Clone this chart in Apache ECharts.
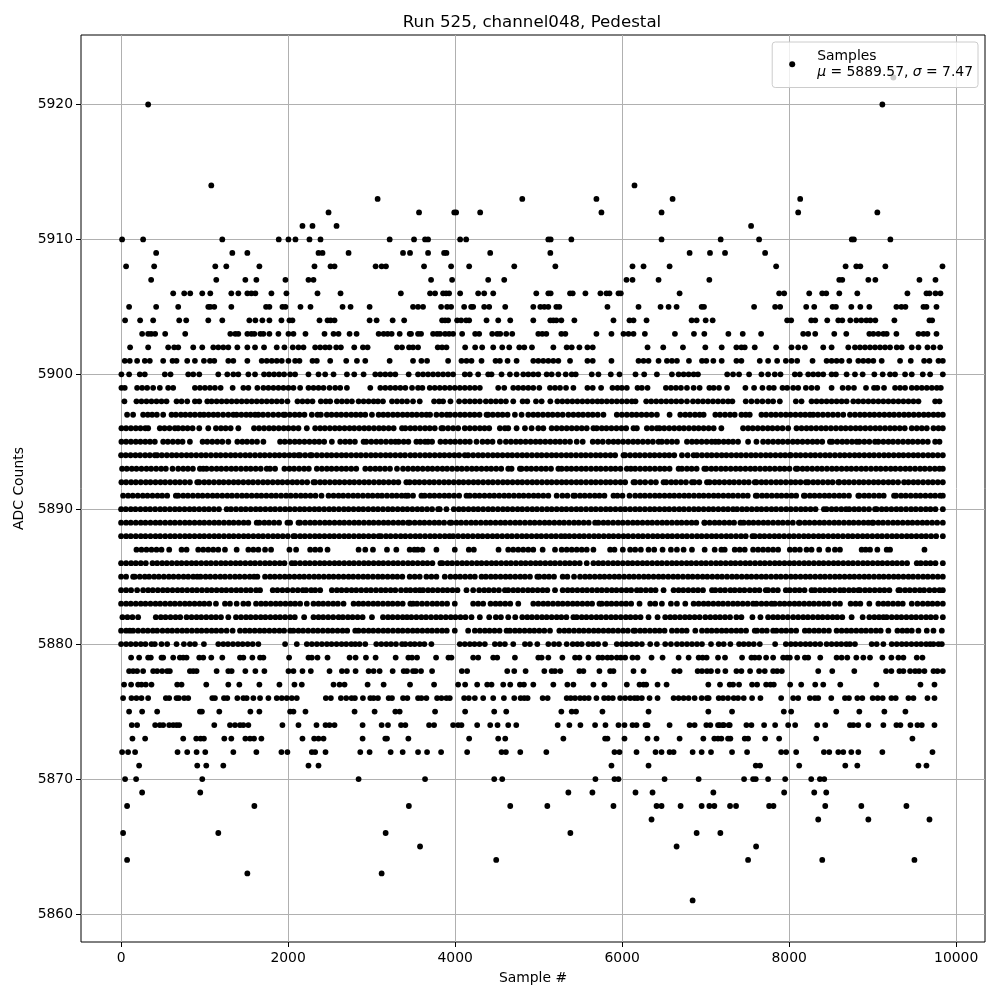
<!DOCTYPE html>
<html>
<head>
<meta charset="utf-8">
<title>Run 525, channel048, Pedestal</title>
<script src="https://cdn.jsdelivr.net/npm/echarts@6/dist/echarts.min.js"></script>
<style>
  html, body { margin: 0; padding: 0; background: #fff; }
  #chart { width: 1000px; height: 1000px; }
</style>
</head>
<body>
<div id="chart"></div>
<script>
// sample numbers, one array per ADC level
const adc5922 = [9248];
const adc5920 = [324, 9116];
const adc5914 = [1080, 6148];
const adc5913 = [3072, 4804, 5692, 6604, 8132];
const adc5912 = [2484, 3568, 3990, 4012, 4300, 5752, 6472, 8108, 9056];
const adc5911 = [2172, 2292, 2580, 7544];
const adc5910 = [12, 264, 1212, 1888, 2004, 2088, 2256, 2388, 3216, 3508, 3640, 3676, 4060, 4132, 5116, 5144, 5392, 6472, 7180, 7640, 8750, 8775, 9212];
const adc5909 = [420, 1332, 1512, 2364, 2412, 2724, 3376, 3460, 3676, 3868, 3896, 4420, 5140, 6808, 7052, 7232, 7712];
const adc5908 = [60, 396, 1128, 1260, 1656, 2316, 2508, 2556, 3048, 3120, 3172, 3628, 3952, 4168, 4708, 5200, 6124, 6256, 6568, 7844, 8676, 8804, 8852, 9152, 9836];
const adc5907 = [360, 1140, 1488, 1620, 1968, 2244, 2304, 3712, 3964, 4396, 4588, 6052, 6124, 6436, 7044, 8600, 8636, 8948, 9032, 9560, 9752];
const adc5906 = [624, 756, 828, 972, 1068, 1320, 1404, 1512, 1560, 1608, 1800, 1980, 2352, 2628, 3350, 3700, 3760, 3856, 3892, 3928, 4060, 4276, 4348, 4456, 4972, 5116, 5144, 5376, 5408, 5560, 5740, 5812, 5848, 5956, 5984, 6688, 7880, 7940, 8240, 8396, 8444, 8600, 8816, 9416, 9644, 9680, 9752, 9812];
const adc5905 = [96, 420, 684, 1044, 1068, 1116, 1320, 1736, 1776, 1932, 1968, 2148, 2268, 2652, 2748, 2976, 3496, 3556, 3616, 3832, 3904, 3952, 4108, 4192, 4216, 4348, 4408, 4600, 4936, 5020, 5068, 5116, 5212, 5248, 5824, 6196, 6460, 6556, 6652, 6952, 6980, 7580, 7832, 7892, 8204, 8300, 8520, 8560, 8744, 8852, 8960, 9284, 9344, 9392, 9608, 9644, 9764];
const adc5904 = [48, 228, 384, 696, 780, 1044, 1212, 1536, 1608, 1692, 1776, 1920, 2016, 2052, 2376, 2472, 2508, 2556, 2976, 3060, 3252, 3390, 3844, 3880, 3916, 4024, 4072, 4132, 4168, 4376, 4516, 4660, 4936, 5140, 5176, 5212, 5272, 5428, 5896, 6088, 6136, 6292, 6832, 6892, 7000, 7084, 7976, 8024, 8264, 8312, 8456, 8588, 8636, 8732, 8804, 8864, 8924, 8972, 9032, 9260, 9680, 9712];
const adc5903 = [252, 324, 360, 408, 528, 768, 1308, 1368, 1404, 1512, 1560, 1596, 1668, 1704, 1776, 1884, 2004, 2064, 2208, 2436, 2544, 2604, 2736, 2820, 3084, 3144, 3192, 3240, 3336, 3456, 3472, 3556, 3592, 3736, 3784, 3820, 3880, 3928, 3976, 4084, 4240, 4288, 4444, 4504, 4540, 4612, 4684, 4996, 5044, 5092, 5272, 5320, 5692, 5872, 6016, 6076, 6136, 6272, 6632, 6860, 6984, 7272, 7444, 7664, 8168, 8228, 8312, 8540, 8684, 8960, 9008, 9068, 9128, 9168, 9284, 9548, 9608, 9656, 9764];
const adc5902 = [108, 324, 564, 636, 684, 864, 972, 1104, 1164, 1224, 1284, 1392, 1512, 1604, 1712, 1864, 1956, 2056, 2124, 2184, 2324, 2384, 2444, 2496, 2576, 2632, 2792, 2896, 2952, 3304, 3364, 3448, 3496, 3556, 3792, 3844, 3896, 4120, 4240, 4324, 4456, 4564, 4648, 4768, 4828, 4920, 5176, 5336, 5396, 5488, 5584, 5648, 6304, 6492, 6728, 6996, 7192, 7368, 7428, 7468, 7588, 7844, 8028, 8108, 8188, 8408, 8508, 8708, 8788, 8848, 8908, 8968, 9028, 9088, 9148, 9208, 9288, 9348, 9468, 9548, 9656, 9728, 9808];
const adc5901 = [44, 104, 192, 284, 344, 504, 616, 664, 792, 884, 992, 1064, 1116, 1284, 1344, 1512, 1684, 1744, 1804, 1864, 1924, 2004, 2084, 2136, 2292, 2344, 2504, 2696, 2824, 2924, 3216, 3496, 3596, 3664, 3916, 4076, 4136, 4196, 4316, 4484, 4536, 4628, 4736, 4936, 4996, 5056, 5116, 5176, 5236, 5376, 5584, 5648, 5872, 6196, 6256, 6316, 6436, 6536, 6596, 6656, 6800, 6956, 7008, 7092, 7192, 7368, 7428, 7648, 7748, 7856, 7960, 8028, 8096, 8280, 8448, 8508, 8568, 8628, 8720, 8828, 8888, 8948, 9008, 9108, 9328, 9456, 9616, 9680, 9788, 9840];
const adc5900 = [4, 96, 224, 284, 524, 592, 804, 864, 936, 1164, 1272, 1344, 1404, 1524, 1604, 1712, 1772, 1832, 1892, 1952, 2024, 2084, 2244, 2364, 2444, 2544, 2704, 2792, 2904, 3044, 3104, 3164, 3224, 3284, 3444, 3556, 3616, 3676, 3736, 3796, 3856, 3916, 3976, 4116, 4176, 4276, 4396, 4436, 4556, 4656, 4736, 4816, 4876, 4936, 4996, 5096, 5156, 5236, 5324, 5396, 5444, 5636, 5716, 5864, 5968, 6160, 6264, 6416, 6596, 6676, 6736, 6796, 6856, 6908, 7258, 7328, 7400, 7520, 7668, 7748, 7828, 7896, 8068, 8128, 8228, 8288, 8348, 8408, 8508, 8560, 8688, 8788, 8880, 9020, 9120, 9208, 9268, 9388, 9468, 9600, 9688, 9840];
const adc5899 = [4, 44, 192, 252, 312, 384, 464, 564, 624, 884, 944, 1004, 1064, 1124, 1192, 1336, 1464, 1524, 1632, 1704, 1764, 1824, 1884, 1944, 2004, 2064, 2144, 2244, 2304, 2364, 2424, 2496, 2564, 2624, 2704, 2984, 3104, 3164, 3224, 3284, 3344, 3404, 3484, 3556, 3608, 3696, 3756, 3816, 3876, 3936, 3996, 4056, 4116, 4176, 4236, 4296, 4516, 4588, 4696, 4756, 4816, 4876, 4936, 5008, 5136, 5196, 5256, 5328, 5416, 5584, 5648, 5748, 5884, 5944, 5996, 6056, 6184, 6236, 6304, 6524, 6584, 6644, 6704, 6776, 6856, 6928, 7044, 7096, 7160, 7256, 7476, 7580, 7680, 7760, 7816, 7920, 7976, 8048, 8108, 8200, 8268, 8336, 8508, 8640, 8708, 8776, 8920, 9016, 9056, 9136, 9268, 9328, 9388, 9468, 9528, 9588, 9648, 9708, 9768, 9816];
const adc5898 = [40, 184, 244, 304, 364, 424, 484, 544, 664, 724, 792, 884, 936, 1032, 1084, 1144, 1204, 1264, 1324, 1384, 1444, 1504, 1564, 1624, 1684, 1744, 1804, 1864, 1924, 1992, 2112, 2172, 2232, 2292, 2392, 2452, 2504, 2584, 2644, 2704, 2764, 2844, 2904, 2964, 3024, 3076, 3136, 3244, 3304, 3364, 3424, 3496, 3576, 3748, 3808, 3856, 3944, 4048, 4116, 4176, 4236, 4296, 4368, 4428, 4488, 4548, 4608, 4696, 4808, 4864, 4968, 5036, 5140, 5224, 5284, 5344, 5404, 5464, 5524, 5584, 5644, 5704, 5756, 5816, 5876, 5936, 5996, 6056, 6116, 6160, 6288, 6348, 6408, 6468, 6528, 6588, 6648, 6708, 6776, 6848, 6908, 6968, 7028, 7088, 7148, 7208, 7268, 7320, 7480, 7548, 7616, 7680, 7748, 7808, 7888, 8080, 8148, 8268, 8328, 8388, 8448, 8508, 8568, 8628, 8688, 8768, 8828, 8888, 8948, 9008, 9068, 9128, 9188, 9248, 9308, 9368, 9428, 9488, 9548, 9748, 9800];
const adc5897 = [72, 144, 264, 320, 372, 428, 504, 604, 656, 716, 770, 828, 884, 944, 992, 1048, 1106, 1160, 1222, 1284, 1344, 1384, 1440, 1498, 1550, 1604, 1644, 1700, 1760, 1822, 1884, 1944, 1964, 2020, 2080, 2136, 2196, 2284, 2352, 2392, 2464, 2520, 2580, 2636, 2696, 2756, 2812, 2868, 2924, 3004, 3084, 3140, 3196, 3256, 3312, 3372, 3428, 3484, 3540, 3600, 3656, 3700, 3776, 3840, 3900, 3940, 4000, 4060, 4116, 4176, 4232, 4292, 4376, 4396, 4452, 4512, 4568, 4628, 4716, 4796, 4876, 4936, 4992, 5052, 5112, 5168, 5228, 5288, 5356, 5416, 5476, 5532, 5592, 5648, 5708, 5776, 5936, 5996, 6056, 6116, 6172, 6232, 6292, 6352, 6416, 6568, 6696, 6756, 6812, 6872, 6928, 6976, 7116, 7172, 7232, 7292, 7348, 7428, 7480, 7528, 7668, 7724, 7784, 7840, 7900, 7960, 8016, 8076, 8136, 8192, 8248, 8288, 8344, 8404, 8464, 8524, 8584, 8648, 8728, 8788, 8848, 8904, 8964, 9020, 9080, 9140, 9200, 9256, 9316, 9376, 9432, 9492, 9552, 9612, 9668, 9728, 9784, 9840];
const adc5896 = [4, 60, 118, 176, 232, 290, 324, 464, 520, 580, 644, 684, 740, 796, 856, 936, 1044, 1136, 1196, 1252, 1312, 1404, 1592, 1652, 1712, 1772, 1828, 1888, 1948, 2004, 2064, 2124, 2224, 2324, 2384, 2440, 2500, 2560, 2616, 2676, 2736, 2792, 2852, 2912, 2968, 3028, 3088, 3144, 3204, 3264, 3364, 3404, 3464, 3520, 3580, 3640, 3696, 3756, 3836, 3856, 3916, 3976, 4036, 4116, 4176, 4236, 4296, 4352, 4408, 4536, 4596, 4636, 4736, 4836, 4916, 4996, 5056, 5156, 5216, 5276, 5336, 5396, 5456, 5516, 5576, 5656, 5696, 5756, 5812, 5872, 5932, 5992, 6048, 6136, 6176, 6296, 6356, 6416, 6448, 6504, 6564, 6624, 6684, 6740, 6800, 6860, 6916, 6976, 7036, 7096, 7188, 7448, 7508, 7564, 7624, 7684, 7744, 7800, 7860, 7920, 7988, 8088, 8148, 8208, 8264, 8324, 8384, 8440, 8500, 8560, 8620, 8676, 8736, 8796, 8852, 8912, 8972, 9032, 9088, 9148, 9208, 9264, 9324, 9384, 9468, 9528, 9588, 9648, 9728, 9788, 9840];
const adc5895 = [4, 60, 118, 176, 232, 290, 346, 404, 504, 560, 620, 680, 736, 824, 976, 1032, 1092, 1152, 1212, 1284, 1392, 1452, 1508, 1568, 1628, 1704, 1904, 1960, 2020, 2080, 2136, 2196, 2256, 2316, 2372, 2432, 2524, 2624, 2684, 2740, 2800, 2904, 2936, 2996, 3056, 3112, 3172, 3232, 3284, 3324, 3384, 3440, 3536, 3584, 3640, 3676, 3724, 3824, 3884, 3944, 4000, 4060, 4120, 4176, 4256, 4328, 4388, 4448, 4536, 4608, 4668, 4728, 4784, 4844, 4904, 4964, 5020, 5080, 5140, 5200, 5256, 5316, 5376, 5456, 5528, 5648, 5708, 5768, 5836, 5896, 5952, 6012, 6072, 6132, 6188, 6248, 6308, 6368, 6436, 6476, 6536, 6596, 6656, 6776, 6836, 6892, 6952, 7012, 7072, 7116, 7156, 7216, 7272, 7328, 7388, 7508, 7608, 7688, 7748, 7808, 7868, 7924, 7984, 8044, 8100, 8160, 8220, 8280, 8336, 8396, 8488, 8516, 8576, 8636, 8692, 8752, 8808, 8840, 8900, 8960, 9028, 9068, 9128, 9188, 9244, 9304, 9364, 9424, 9480, 9540, 9600, 9660, 9748, 9800];
const adc5894 = [0, 56, 114, 172, 228, 288, 344, 404, 432, 488, 548, 608, 664, 724, 784, 840, 900, 960, 1016, 1076, 1136, 1192, 1252, 1312, 1368, 1428, 1488, 1544, 1604, 1664, 1720, 1780, 1840, 1896, 1956, 2016, 2072, 2124, 2144, 2204, 2264, 2284, 2344, 2404, 2464, 2520, 2580, 2640, 2696, 2756, 2816, 2872, 2932, 2992, 3048, 3108, 3168, 3224, 3284, 3344, 3400, 3464, 3520, 3580, 3640, 3696, 3756, 3816, 3872, 3932, 3992, 4048, 4116, 4156, 4216, 4276, 4332, 4392, 4452, 4508, 4568, 4628, 4684, 4744, 4804, 4860, 4920, 4980, 5036, 5096, 5156, 5212, 5272, 5332, 5388, 5448, 5508, 5564, 5624, 5684, 5740, 5800, 5860, 5916, 6016, 6036, 6096, 6156, 6212, 6272, 6332, 6388, 6448, 6508, 6564, 6624, 6716, 6784, 6856, 6896, 6956, 7016, 7072, 7132, 7192, 7248, 7308, 7368, 7424, 7484, 7544, 7600, 7660, 7720, 7776, 7836, 7896, 7952, 8008, 8020, 8080, 8136, 8196, 8256, 8312, 8372, 8432, 8488, 8548, 8608, 8664, 8724, 8784, 8840, 8900, 8960, 9016, 9076, 9136, 9192, 9252, 9312, 9368, 9428, 9488, 9544, 9604, 9664, 9720, 9780, 9840];
const adc5893 = [12, 68, 128, 184, 244, 304, 360, 420, 480, 536, 616, 684, 744, 800, 860, 944, 984, 1024, 1084, 1144, 1200, 1260, 1320, 1376, 1436, 1496, 1552, 1612, 1672, 1744, 1784, 1844, 1956, 2016, 2072, 2132, 2192, 2248, 2344, 2404, 2464, 2520, 2580, 2640, 2696, 2756, 2816, 2924, 2984, 3044, 3100, 3160, 3220, 3304, 3376, 3436, 3496, 3552, 3612, 3672, 3728, 3788, 3848, 3904, 3964, 4024, 4080, 4140, 4200, 4256, 4316, 4376, 4432, 4492, 4552, 4636, 4676, 4776, 4796, 4856, 4912, 4972, 5032, 5088, 5148, 5236, 5276, 5336, 5392, 5452, 5512, 5568, 5628, 5688, 5744, 5804, 5864, 5920, 5980, 6056, 6104, 6156, 6216, 6276, 6332, 6392, 6452, 6508, 6568, 6676, 6716, 6776, 6832, 6892, 6984, 7008, 7068, 7124, 7184, 7240, 7300, 7360, 7416, 7476, 7536, 7592, 7652, 7712, 7768, 7828, 7888, 7944, 8004, 8080, 8100, 8160, 8216, 8276, 8336, 8392, 8452, 8512, 8568, 8628, 8688, 8744, 8804, 8864, 8920, 8980, 9040, 9096, 9156, 9216, 9272, 9332, 9392, 9448, 9508, 9568, 9624, 9684, 9744, 9800, 9840];
const adc5892 = [4, 60, 120, 176, 236, 296, 352, 412, 472, 528, 588, 648, 704, 764, 824, 912, 936, 996, 1052, 1112, 1172, 1228, 1288, 1348, 1404, 1464, 1524, 1580, 1640, 1700, 1756, 1816, 1876, 1932, 1992, 2052, 2108, 2168, 2228, 2304, 2324, 2384, 2440, 2500, 2560, 2616, 2676, 2736, 2792, 2852, 2912, 2968, 3028, 3088, 3144, 3204, 3264, 3320, 3416, 3456, 3516, 3572, 3632, 3692, 3748, 3808, 3868, 3924, 3984, 4044, 4100, 4160, 4220, 4276, 4336, 4396, 4452, 4512, 4572, 4628, 4688, 4748, 4804, 4864, 4924, 4980, 5040, 5100, 5156, 5216, 5276, 5332, 5392, 5452, 5508, 5568, 5628, 5684, 5744, 5804, 5860, 5920, 5980, 6036, 6136, 6156, 6216, 6276, 6344, 6404, 6496, 6528, 6588, 6644, 6704, 6764, 6836, 6864, 6924, 7016, 7048, 7108, 7164, 7224, 7284, 7340, 7400, 7460, 7516, 7588, 7608, 7668, 7724, 7784, 7844, 7900, 7960, 8020, 8076, 8136, 8200, 8228, 8288, 8344, 8404, 8464, 8520, 8588, 8600, 8660, 8716, 8776, 8836, 8892, 8952, 9012, 9068, 9128, 9188, 9244, 9304, 9376, 9428, 9488, 9544, 9604, 9664, 9720, 9780, 9840];
const adc5891 = [24, 84, 140, 200, 260, 316, 376, 436, 492, 552, 656, 684, 744, 800, 860, 920, 976, 1036, 1096, 1152, 1212, 1272, 1328, 1388, 1448, 1504, 1564, 1624, 1680, 1740, 1800, 1856, 1916, 1976, 2032, 2092, 2152, 2208, 2268, 2328, 2400, 2484, 2544, 2604, 2660, 2720, 2780, 2836, 2896, 2956, 3012, 3072, 3124, 3184, 3244, 3300, 3360, 3408, 3436, 3496, 3596, 3636, 3696, 3752, 3812, 3872, 3928, 3988, 4048, 4136, 4176, 4236, 4292, 4352, 4412, 4468, 4528, 4588, 4644, 4704, 4764, 4820, 4880, 4940, 4996, 5056, 5116, 5216, 5284, 5344, 5416, 5436, 5496, 5552, 5612, 5672, 5728, 5788, 5896, 5944, 6004, 6088, 6156, 6216, 6272, 6332, 6392, 6448, 6508, 6568, 6624, 6684, 6744, 6800, 6860, 6920, 6976, 7036, 7096, 7152, 7212, 7272, 7328, 7388, 7448, 7504, 7600, 7616, 7676, 7732, 7792, 7852, 7908, 7968, 8028, 8084, 8176, 8188, 8248, 8304, 8364, 8424, 8480, 8540, 8600, 8656, 8716, 8828, 8840, 8900, 8956, 9016, 9076, 9132, 9256, 9280, 9340, 9396, 9456, 9516, 9572, 9632, 9692, 9748, 9808, 9840];
const adc5890 = [0, 56, 116, 172, 232, 292, 348, 408, 468, 524, 584, 644, 700, 760, 820, 876, 936, 996, 1052, 1112, 1172, 1264, 1316, 1376, 1436, 1492, 1552, 1612, 1668, 1728, 1788, 1844, 1904, 1964, 2020, 2080, 2140, 2196, 2256, 2316, 2372, 2432, 2492, 2548, 2608, 2668, 2724, 2784, 2844, 2900, 2960, 3020, 3076, 3136, 3196, 3252, 3312, 3372, 3428, 3488, 3548, 3604, 3664, 3724, 3796, 3816, 3896, 3984, 4044, 4100, 4160, 4220, 4276, 4336, 4396, 4452, 4512, 4572, 4628, 4688, 4748, 4804, 4864, 4924, 4980, 5040, 5100, 5156, 5216, 5276, 5332, 5392, 5452, 5508, 5568, 5628, 5684, 5744, 5804, 5860, 5920, 5980, 6036, 6096, 6156, 6212, 6272, 6332, 6388, 6448, 6508, 6564, 6624, 6684, 6740, 6800, 6860, 6916, 6976, 7036, 7092, 7152, 7212, 7268, 7328, 7376, 7436, 7492, 7552, 7612, 7668, 7728, 7788, 7844, 7904, 7964, 8020, 8080, 8140, 8196, 8256, 8316, 8416, 8448, 8508, 8564, 8624, 8680, 8720, 8780, 8836, 8896, 8956, 9028, 9048, 9108, 9164, 9224, 9284, 9340, 9400, 9460, 9516, 9576, 9636, 9692, 9752, 9840];
const adc5889 = [0, 60, 116, 176, 236, 292, 352, 412, 468, 528, 588, 644, 704, 764, 820, 880, 940, 996, 1056, 1116, 1172, 1232, 1292, 1348, 1408, 1468, 1524, 1624, 1656, 1716, 1772, 1832, 1892, 1992, 2024, 2124, 2144, 2204, 2264, 2320, 2380, 2440, 2496, 2556, 2616, 2672, 2732, 2792, 2848, 2908, 2968, 3024, 3084, 3144, 3200, 3260, 3320, 3376, 3436, 3456, 3516, 3576, 3632, 3692, 3752, 3808, 3868, 3936, 3956, 4016, 4072, 4132, 4192, 4248, 4308, 4368, 4424, 4484, 4544, 4600, 4660, 4720, 4776, 4836, 4896, 4952, 5012, 5072, 5128, 5188, 5248, 5304, 5364, 5424, 5480, 5540, 5600, 5676, 5716, 5776, 5832, 5892, 5952, 6008, 6068, 6128, 6184, 6244, 6304, 6360, 6420, 6480, 6536, 6596, 6656, 6712, 6772, 6832, 6888, 6984, 6988, 7048, 7108, 7164, 7224, 7284, 7340, 7416, 7456, 7516, 7572, 7632, 7692, 7748, 7808, 7868, 7924, 7984, 8044, 8116, 8128, 8188, 8244, 8304, 8364, 8420, 8480, 8540, 8596, 8656, 8716, 8772, 8832, 8892, 8948, 8996, 9008, 9068, 9124, 9184, 9244, 9300, 9360, 9420, 9476, 9536, 9596, 9652, 9712, 9772, 9840];
const adc5888 = [0, 60, 116, 176, 236, 292, 352, 412, 468, 528, 588, 644, 704, 764, 820, 880, 940, 996, 1056, 1116, 1172, 1232, 1292, 1348, 1408, 1468, 1524, 1584, 1644, 1700, 1760, 1820, 1876, 1936, 1996, 2064, 2084, 2144, 2200, 2260, 2320, 2376, 2436, 2496, 2552, 2612, 2672, 2728, 2788, 2848, 2904, 2964, 3024, 3084, 3112, 3172, 3228, 3288, 3348, 3404, 3464, 3524, 3580, 3640, 3700, 3756, 3816, 3876, 3932, 3976, 4036, 4096, 4152, 4212, 4272, 4328, 4388, 4448, 4504, 4564, 4624, 4680, 4740, 4800, 4856, 4916, 4976, 5032, 5092, 5152, 5208, 5268, 5316, 5368, 5428, 5488, 5544, 5604, 5664, 5720, 5780, 5840, 5896, 5956, 6016, 6072, 6132, 6192, 6248, 6308, 6368, 6424, 6484, 6544, 6600, 6660, 6720, 6776, 6836, 6896, 6952, 7012, 7072, 7128, 7188, 7248, 7304, 7364, 7424, 7480, 7560, 7588, 7648, 7704, 7764, 7824, 7880, 7940, 8000, 8056, 8116, 8176, 8232, 8292, 8352, 8408, 8468, 8528, 8584, 8644, 8704, 8760, 8820, 8880, 8936, 8996, 9056, 9112, 9172, 9232, 9288, 9348, 9408, 9464, 9524, 9584, 9640, 9700, 9760, 9840];
const adc5887 = [184, 244, 304, 364, 424, 484, 576, 724, 784, 924, 984, 1044, 1104, 1164, 1244, 1384, 1524, 1584, 1644, 1724, 1796, 2016, 2096, 2264, 2324, 2384, 2472, 2844, 2924, 3016, 3184, 3296, 3456, 3512, 3552, 3608, 3776, 3996, 4164, 4224, 4520, 4636, 4696, 4756, 4816, 4876, 4936, 5048, 5196, 5276, 5336, 5396, 5456, 5516, 5576, 5656, 5856, 5908, 6008, 6096, 6156, 6224, 6316, 6384, 6484, 6584, 6656, 6736, 6836, 6988, 7108, 7188, 7228, 7348, 7408, 7468, 7568, 7628, 7688, 7748, 7808, 7868, 8008, 8068, 8128, 8208, 8268, 8360, 8468, 8548, 8608, 8868, 8916, 8968, 9056, 9168, 9208, 9620];
const adc5886 = [0, 60, 120, 176, 236, 296, 376, 432, 492, 548, 608, 668, 724, 784, 844, 900, 960, 1020, 1076, 1136, 1196, 1252, 1312, 1372, 1428, 1488, 1548, 1604, 1664, 1724, 1780, 1840, 1900, 1956, 2044, 2084, 2144, 2204, 2260, 2320, 2380, 2436, 2496, 2556, 2612, 2672, 2732, 2788, 2848, 2908, 2964, 3024, 3084, 3140, 3200, 3260, 3316, 3376, 3436, 3492, 3552, 3612, 3668, 3728, 3824, 3848, 3908, 3964, 4024, 4084, 4140, 4200, 4260, 4316, 4376, 4436, 4492, 4552, 4612, 4668, 4728, 4788, 4844, 4904, 4964, 5020, 5080, 5140, 5196, 5256, 5316, 5372, 5432, 5492, 5576, 5656, 5716, 5772, 5832, 5892, 5948, 6008, 6068, 6124, 6184, 6244, 6300, 6360, 6420, 6476, 6536, 6596, 6652, 6712, 6772, 6828, 6888, 6948, 7004, 7064, 7124, 7180, 7240, 7300, 7356, 7416, 7476, 7532, 7592, 7652, 7708, 7768, 7828, 7884, 7944, 8004, 8060, 8120, 8180, 8236, 8296, 8356, 8412, 8472, 8532, 8588, 8648, 8708, 8764, 8824, 8884, 8940, 9000, 9060, 9116, 9176, 9236, 9292, 9352, 9412, 9528, 9576, 9636, 9692, 9752, 9840];
const adc5885 = [0, 60, 144, 164, 224, 284, 336, 396, 452, 512, 572, 628, 688, 748, 804, 864, 912, 952, 1012, 1068, 1128, 1188, 1244, 1304, 1364, 1420, 1480, 1540, 1592, 1632, 1724, 1784, 1840, 1900, 1960, 2016, 2076, 2136, 2192, 2252, 2312, 2368, 2428, 2488, 2544, 2604, 2664, 2724, 2780, 2840, 2900, 2956, 3016, 3076, 3132, 3192, 3252, 3308, 3368, 3456, 3516, 3576, 3656, 3716, 3776, 3876, 3944, 4004, 4060, 4120, 4180, 4236, 4316, 4368, 4428, 4484, 4544, 4604, 4660, 4720, 4780, 4836, 4896, 4984, 5008, 5068, 5124, 5184, 5288, 5344, 5424, 5496, 5556, 5612, 5672, 5732, 5788, 5848, 5908, 5964, 6024, 6084, 6140, 6200, 6260, 6316, 6376, 6436, 6492, 6552, 6612, 6668, 6728, 6788, 6844, 6904, 6964, 7020, 7080, 7140, 7196, 7256, 7316, 7372, 7432, 7492, 7548, 7608, 7668, 7724, 7784, 7844, 7900, 7960, 8020, 8076, 8136, 8196, 8252, 8312, 8372, 8428, 8488, 8548, 8604, 8664, 8724, 8780, 8840, 8900, 8956, 9016, 9076, 9132, 9192, 9252, 9308, 9368, 9428, 9484, 9544, 9604, 9660, 9720, 9780, 9840];
const adc5884 = [0, 60, 120, 192, 264, 324, 380, 440, 500, 556, 616, 676, 732, 792, 852, 908, 968, 1028, 1084, 1144, 1204, 1260, 1320, 1380, 1436, 1496, 1552, 1616, 1664, 1816, 1872, 1932, 1992, 2056, 2116, 2176, 2216, 2276, 2324, 2384, 2524, 2584, 2640, 2700, 2760, 2816, 2876, 2936, 2992, 3052, 3112, 3168, 3228, 3284, 3352, 3412, 3464, 3524, 3576, 3616, 3676, 3732, 3792, 3852, 3908, 3968, 4028, 4136, 4216, 4288, 4348, 4404, 4464, 4524, 4596, 4636, 4696, 4752, 4812, 4872, 4928, 4988, 5048, 5104, 5196, 5288, 5348, 5404, 5464, 5524, 5580, 5640, 5700, 5756, 5816, 5876, 5932, 5992, 6052, 6108, 6176, 6224, 6284, 6344, 6400, 6496, 6616, 6676, 6732, 6792, 6852, 6908, 6968, 7076, 7116, 7176, 7232, 7296, 7348, 7408, 7464, 7528, 7588, 7644, 7720, 7748, 7808, 7864, 7960, 8008, 8068, 8124, 8184, 8268, 8308, 8368, 8424, 8484, 8544, 8608, 8656, 8716, 8772, 8828, 8848, 8908, 8964, 9024, 9084, 9140, 9200, 9308, 9328, 9388, 9444, 9504, 9564, 9616, 9680, 9740, 9800, 9840];
const adc5883 = [0, 60, 116, 176, 236, 292, 352, 412, 468, 528, 588, 644, 704, 764, 820, 880, 940, 996, 1056, 1136, 1244, 1304, 1384, 1464, 1524, 1616, 1676, 1732, 1792, 1852, 1908, 1968, 2028, 2084, 2144, 2224, 2304, 2364, 2420, 2480, 2540, 2596, 2664, 2784, 2844, 2900, 2960, 3020, 3076, 3136, 3196, 3252, 3312, 3372, 3464, 3496, 3544, 3604, 3664, 3728, 3784, 3844, 3904, 3996, 4216, 4276, 4336, 4424, 4484, 4540, 4600, 4660, 4756, 4936, 4996, 5056, 5112, 5172, 5232, 5288, 5348, 5408, 5464, 5524, 5584, 5640, 5728, 5756, 5816, 5872, 5932, 5992, 6048, 6108, 6208, 6336, 6396, 6476, 6584, 6656, 6756, 6856, 6916, 6976, 7032, 7092, 7152, 7208, 7268, 7328, 7384, 7444, 7504, 7568, 7608, 7668, 7728, 7788, 7828, 7888, 7944, 8004, 8064, 8120, 8180, 8240, 8296, 8356, 8416, 8472, 8548, 8608, 8736, 8796, 8852, 8960, 9068, 9128, 9184, 9244, 9304, 9360, 9468, 9536, 9600, 9660, 9716, 9776, 9840];
const adc5882 = [16, 76, 136, 204, 416, 476, 532, 592, 652, 708, 784, 844, 904, 960, 1020, 1080, 1136, 1196, 1284, 1376, 1436, 1496, 1552, 1612, 1672, 1728, 1788, 1848, 1904, 1964, 2024, 2080, 2192, 2304, 2364, 2420, 2480, 2540, 2604, 2656, 2716, 2772, 2832, 2892, 3004, 3136, 3196, 3252, 3312, 3372, 3424, 3476, 3536, 3596, 3652, 3712, 3772, 3828, 3888, 3948, 4004, 4064, 4124, 4196, 4296, 4408, 4488, 4548, 4636, 4720, 4804, 4864, 4920, 4980, 5040, 5096, 5156, 5216, 5272, 5332, 5416, 5456, 5516, 5572, 5632, 5692, 5748, 5808, 5868, 5924, 5984, 6044, 6100, 6160, 6220, 6316, 6424, 6516, 6576, 6632, 6692, 6752, 6808, 6868, 6928, 6996, 7056, 7116, 7172, 7232, 7292, 7368, 7428, 7560, 7656, 7748, 7808, 7864, 7924, 7984, 8048, 8108, 8168, 8224, 8284, 8344, 8400, 8460, 8520, 8576, 8636, 8748, 8880, 8960, 9020, 9076, 9128, 9168, 9228, 9288, 9344, 9404, 9464, 9520, 9580, 9640, 9696, 9756, 9840];
const adc5881 = [0, 60, 104, 144, 204, 264, 320, 380, 432, 496, 556, 612, 672, 732, 788, 848, 908, 964, 1024, 1084, 1140, 1200, 1264, 1336, 1424, 1484, 1540, 1600, 1660, 1716, 1776, 1836, 1896, 1952, 2024, 2064, 2124, 2180, 2240, 2300, 2356, 2416, 2476, 2532, 2592, 2652, 2708, 2804, 2844, 2904, 2964, 3020, 3080, 3140, 3196, 3256, 3316, 3372, 3432, 3492, 3548, 3608, 3668, 3724, 3784, 3844, 3900, 3996, 4156, 4236, 4296, 4356, 4412, 4472, 4532, 4616, 4656, 4716, 4772, 4832, 4892, 4948, 5008, 5068, 5136, 5248, 5308, 5364, 5424, 5484, 5540, 5600, 5660, 5716, 5776, 5836, 5892, 5952, 6012, 6068, 6136, 6156, 6216, 6272, 6332, 6392, 6448, 6508, 6596, 6656, 6716, 6772, 6876, 6956, 7016, 7072, 7132, 7192, 7248, 7308, 7368, 7424, 7484, 7588, 7616, 7676, 7732, 7808, 7848, 7908, 7964, 8024, 8084, 8188, 8240, 8300, 8356, 8416, 8476, 8568, 8628, 8688, 8744, 8804, 8864, 8920, 8980, 9040, 9096, 9188, 9296, 9356, 9412, 9468, 9548, 9648, 9728, 9828];
const adc5880 = [0, 60, 116, 176, 236, 292, 364, 404, 484, 552, 664, 752, 824, 884, 992, 1164, 1224, 1280, 1340, 1400, 1456, 1516, 1576, 1644, 1964, 2104, 2224, 2284, 2344, 2404, 2464, 2520, 2580, 2640, 2696, 2756, 2804, 2856, 2924, 3056, 3116, 3176, 3232, 3292, 3364, 3404, 3464, 3516, 3576, 3632, 3716, 4056, 4116, 4176, 4232, 4292, 4356, 4476, 4536, 4596, 4696, 4836, 4896, 4984, 5116, 5184, 5244, 5336, 5408, 5464, 5516, 5596, 5652, 5712, 5796, 5936, 5996, 6052, 6112, 6172, 6236, 6336, 6416, 6516, 6584, 6656, 6716, 6776, 6836, 6896, 6956, 7064, 7156, 7216, 7296, 7400, 7456, 7516, 7576, 7648, 7832, 7960, 8020, 8076, 8136, 8196, 8252, 8312, 8372, 8448, 8508, 8568, 8624, 8684, 8728, 8788, 8988, 9048, 9128, 9228, 9288, 9348, 9404, 9464, 9524, 9580, 9640, 9688, 9728, 9788, 9828];
const adc5879 = [120, 216, 324, 356, 484, 504, 624, 704, 744, 784, 936, 984, 1080, 1212, 1424, 1464, 1572, 1664, 1704, 2012, 2244, 2284, 2352, 2472, 2736, 2808, 2932, 3048, 3288, 3440, 3484, 3544, 3772, 3920, 3956, 4216, 4276, 4456, 4504, 4716, 4996, 5036, 5116, 5284, 5436, 5488, 5596, 5716, 5764, 5824, 5872, 5936, 5984, 6036, 6124, 6184, 6352, 6484, 6676, 6796, 6916, 6964, 7012, 7148, 7232, 7436, 7548, 7588, 7640, 7724, 7808, 7928, 7976, 8008, 8096, 8188, 8228, 8372, 8568, 8628, 8696, 8804, 8888, 8968, 9116, 9224, 9308, 9368, 9528, 9596];
const adc5878 = [96, 144, 192, 264, 384, 432, 492, 552, 584, 824, 864, 904, 1144, 1284, 1324, 1488, 1608, 1716, 2004, 2064, 2172, 2272, 2496, 2644, 2704, 2808, 2964, 3024, 3096, 3252, 3384, 3424, 3496, 3528, 3592, 3724, 4080, 4144, 4624, 4708, 4844, 5068, 5156, 5196, 5260, 5488, 5536, 5728, 5856, 5896, 6136, 6256, 6624, 6688, 6904, 6956, 7016, 7064, 7144, 7236, 7368, 7428, 7532, 7640, 7708, 7808, 7856, 7912, 8348, 8516, 8780, 9160, 9224, 9320, 9368, 9448, 9508, 9556, 9620, 9728, 9776, 9840];
const adc5877 = [36, 120, 204, 244, 296, 364, 672, 724, 1020, 1284, 1416, 1656, 1896, 2076, 2164, 2544, 2616, 2676, 2952, 3144, 3460, 3748, 4036, 4120, 4264, 4384, 4436, 4576, 4660, 4776, 4824, 4936, 5176, 5344, 5416, 5656, 5788, 6056, 6208, 6256, 6288, 6424, 6532, 7032, 7172, 7288, 7328, 7400, 7556, 7616, 7724, 7776, 7816, 8012, 8144, 8312, 8408, 8612, 9044, 9572, 9740];
const adc5876 = [24, 124, 184, 244, 324, 536, 576, 664, 692, 756, 804, 1092, 1124, 1232, 1272, 1392, 1464, 1504, 1584, 1664, 1764, 1864, 1924, 1984, 2044, 2104, 2452, 2512, 2632, 2696, 2760, 2800, 2896, 2984, 3024, 3076, 3204, 3244, 3376, 3428, 3556, 3596, 3656, 3784, 3836, 3896, 3936, 4108, 4164, 4236, 4336, 4456, 4584, 4708, 4784, 4828, 4868, 5048, 5108, 5336, 5384, 5436, 5496, 5548, 5600, 5692, 5784, 5836, 5888, 5976, 6036, 6096, 6148, 6184, 6236, 6328, 6424, 6616, 6676, 6736, 6796, 6868, 6952, 7016, 7036, 7156, 7208, 7268, 7336, 7388, 7456, 7556, 7656, 7904, 8048, 8108, 8248, 8308, 8348, 8504, 8668, 8716, 8816, 8876, 9000, 9060, 9120, 9224, 9276, 9428, 9488, 9656, 9740];
const adc5875 = [96, 252, 432, 944, 968, 1176, 1548, 1656, 2024, 2064, 2208, 2796, 3036, 3284, 3336, 3760, 4120, 4468, 4612, 5272, 5396, 5448, 5764, 6316, 7032, 7316, 7936, 8024, 8564, 8840, 9140, 9392];
const adc5874 = [128, 192, 408, 464, 504, 576, 624, 664, 696, 1116, 1304, 1364, 1424, 1464, 1524, 1932, 2124, 2340, 2448, 2496, 2556, 2892, 3120, 3196, 3352, 3404, 3688, 3748, 3976, 4036, 4076, 4264, 4420, 4508, 4636, 4732, 5228, 5368, 5500, 5676, 5800, 5956, 6028, 6124, 6172, 6280, 6304, 6568, 6808, 6868, 7008, 7056, 7168, 7216, 7276, 7148, 7208, 7288, 7488, 7548, 7700, 7832, 7988, 8072, 8336, 8432, 8728, 8768, 8828, 8948, 9128, 9284, 9332, 9452, 9536, 9588, 9740];
const adc5873 = [136, 288, 744, 900, 952, 992, 1236, 1320, 1488, 1544, 1592, 1680, 2172, 2312, 2364, 2424, 2892, 3164, 3184, 3440, 4168, 4516, 4600, 5296, 5796, 5824, 6028, 6304, 6412, 6688, 6972, 7104, 7148, 7188, 7268, 7296, 7468, 7508, 7712, 7880, 8324, 9476];
const adc5872 = [12, 84, 168, 676, 792, 904, 1008, 1344, 1620, 1920, 1992, 2284, 2324, 2448, 2864, 2976, 3228, 3372, 3556, 3664, 3832, 4144, 4556, 4608, 4780, 5092, 5908, 5968, 6172, 6400, 6472, 6568, 6616, 6844, 6952, 7064, 7316, 7496, 7904, 7964, 8084, 8416, 8480, 8588, 8648, 8744, 8828, 9116, 9716];
const adc5871 = [216, 912, 1020, 1224, 2244, 2364, 5872, 6316, 7600, 7652, 8120, 8672, 8816, 9548, 9644];
const adc5870 = [48, 180, 972, 2844, 3640, 4468, 4564, 5680, 5908, 5956, 6508, 6916, 7460, 7568, 7600, 7748, 7952, 8264, 8368, 8420];
const adc5869 = [252, 948, 5356, 5644, 6160, 6364, 7092, 7940, 8300, 8444];
const adc5868 = [72, 1596, 3446, 4660, 5104, 5896, 6412, 6472, 6700, 6952, 7044, 7104, 7292, 7364, 7760, 7812, 8432, 8864, 9404];
const adc5867 = [6352, 8348, 8948, 9680];
const adc5866 = [24, 1164, 3168, 5380, 6892, 7176];
const adc5865 = [3580, 6652, 7604];
const adc5864 = [72, 4492, 7508, 8396, 9500];
const adc5863 = [1512, 3120];
const adc5861 = [6844];

const levels = [
  [5922, adc5922], [5920, adc5920], [5914, adc5914], [5913, adc5913], [5912, adc5912], [5911, adc5911],
  [5910, adc5910], [5909, adc5909], [5908, adc5908], [5907, adc5907], [5906, adc5906], [5905, adc5905],
  [5904, adc5904], [5903, adc5903], [5902, adc5902], [5901, adc5901], [5900, adc5900], [5899, adc5899],
  [5898, adc5898], [5897, adc5897], [5896, adc5896], [5895, adc5895], [5894, adc5894], [5893, adc5893],
  [5892, adc5892], [5891, adc5891], [5890, adc5890], [5889, adc5889], [5888, adc5888], [5887, adc5887],
  [5886, adc5886], [5885, adc5885], [5884, adc5884], [5883, adc5883], [5882, adc5882], [5881, adc5881],
  [5880, adc5880], [5879, adc5879], [5878, adc5878], [5877, adc5877], [5876, adc5876], [5875, adc5875],
  [5874, adc5874], [5873, adc5873], [5872, adc5872], [5871, adc5871], [5870, adc5870], [5869, adc5869],
  [5868, adc5868], [5867, adc5867], [5866, adc5866], [5865, adc5865], [5864, adc5864], [5863, adc5863],
  [5861, adc5861]
];

const xTicks = [0, 2000, 4000, 6000, 8000, 10000];
const yTicks = [5860, 5870, 5880, 5890, 5900, 5910, 5920];

const font = 'DejaVu Sans';
const points = levels.flatMap(([adc, samples]) => samples.map(s => [s, adc]));

const chart = echarts.init(document.getElementById('chart'), null, { renderer: 'canvas' });
chart.setOption({
  animation: false,
  backgroundColor: '#fff',
  textStyle: { fontFamily: font },
  title: {
    text: 'Run 525, channel048, Pedestal',
    left: 527, top: 9, textAlign: 'center',
    textStyle: { fontFamily: font, fontSize: 16.67, fontWeight: 'normal', color: '#000' }
  },
  grid: { left: 81, right: 15, top: 35, bottom: 58, show: true, borderColor: '#000', borderWidth: 1, backgroundColor: 'transparent' },
  legend: {
    right: 22, top: 42,
    icon: 'circle', itemWidth: 6, itemHeight: 6,
    padding: [7, 5, 8, 17],
    backgroundColor: 'rgba(255,255,255,0.8)',
    borderColor: '#cccccc', borderWidth: 1, borderRadius: 3,
    data: ['Samples'],
    formatter: () => '{t|Samples}\n{i|μ}{t| = 5889.57, }{i|σ}{t| = 7.47}',
    textStyle: {
      padding: [0, 0, 0, 17],
      rich: {
        t: { fontFamily: font, fontSize: 13.9, color: '#000', lineHeight: 16.5 },
        i: { fontFamily: font, fontSize: 13.9, color: '#000', fontStyle: 'italic', lineHeight: 16.5 }
      }
    }
  },
  xAxis: {
    type: 'value', min: -480, max: 10345,
    name: 'Sample #', nameLocation: 'middle', nameGap: 29,
    nameTextStyle: { fontFamily: font, fontSize: 13.9, color: '#000' },
    axisLine: { show: false, onZero: false },
    axisTick: { show: true, length: 5, inside: false, lineStyle: { color: '#000', width: 1 }, customValues: xTicks },
    axisLabel: { color: '#000', fontFamily: font, fontSize: 13.9, margin: 9, formatter: v => String(v), customValues: xTicks },
    splitLine: { show: true, lineStyle: { color: '#b0b0b0', width: 1 } }
  },
  yAxis: {
    type: 'value', min: 5857.92, max: 5925.15,
    name: 'ADC Counts', nameLocation: 'middle', nameGap: 49,
    nameTextStyle: { fontFamily: font, fontSize: 13.9, color: '#000' },
    axisLine: { show: false, onZero: false },
    axisTick: { show: true, length: 5, inside: false, lineStyle: { color: '#000', width: 1 }, customValues: yTicks },
    axisLabel: { color: '#000', fontFamily: font, fontSize: 13.9, margin: 8, formatter: v => String(v), customValues: yTicks },
    splitLine: { show: true, lineStyle: { color: '#b0b0b0', width: 1 } }
  },
  series: [{
    name: 'Samples', type: 'scatter', data: points,
    symbol: 'circle', symbolSize: 5.8,
    itemStyle: { color: '#000', opacity: 1 },
    emphasis: { disabled: true }
  }]
});
</script>
</body>
</html>
